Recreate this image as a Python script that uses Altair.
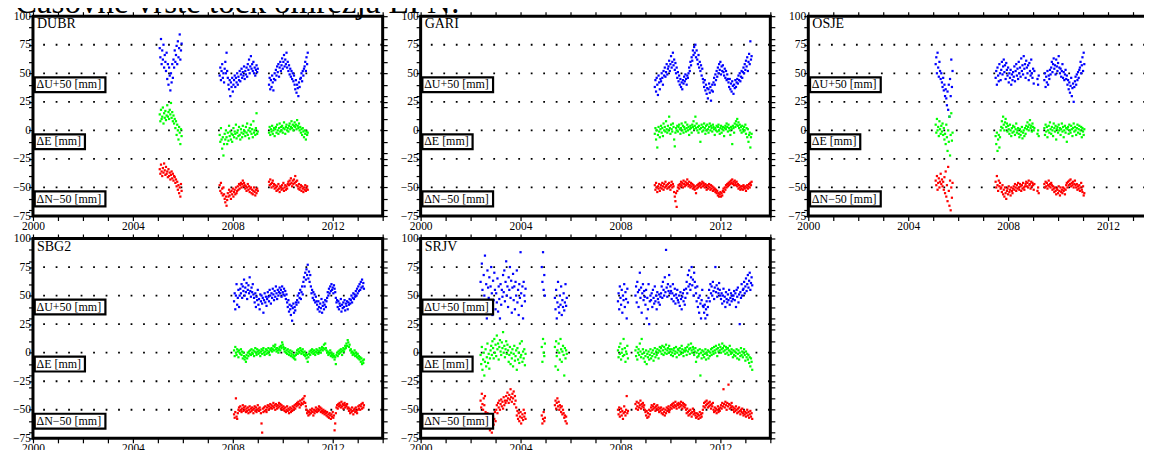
import altair as alt
import pandas as pd

FONT = "Liberation Serif"
TITLE = "Časovne vrste točk omrežja EPN:"
STEP = 0.025  # years between samples
COMPS = ["U", "E", "N"]
COLORS = ["#0000ff", "#00ff00", "#ff0000"]
STATIONS = ["DUBR", "GARI", "OSJE", "SBG2", "SRJV"]

# ---------------- DUBR ----------------
DUBR_START = [2005.075, 2007.475, 2009.45]
DUBR_U = [
    [72, 64, 80, 58, 70, 62, 75, 55, 66, 60, 52, 68, 45, 58, 40, 55, 48, 35, 50, 42,
     58, 46, 62, 55, 70, 60, 66, 74, 58, 78, 64, 72, 84, 62, 70, 76],
    [48, 55, 44, 52, 58, 46, 50, 42, 54, 60, 50, 68, 52, 46, 40, 36, 44, 30, 42, 38,
     46, 34, 40, 44, 48, 38, 46, 42, 50, 40, 47, 44, 52, 43, 49, 54, 46, 51, 48, 56,
     45, 52, 49, 55, 47, 58, 53, 62, 50, 56, 65, 54, 58, 52, 60, 50, 55, 48, 53, 57, 51, 54],
    [40, 46, 36, 44, 38, 48, 42, 35, 45, 50, 44, 53, 48, 56, 51, 58, 47, 55, 60, 52,
     57, 63, 54, 60, 66, 56, 62, 58, 68, 55, 60, 52, 57, 49, 54, 47, 52, 45, 50, 43,
     48, 40, 36, 44, 33, 40, 37, 30, 42, 38, 45, 46, 50, 43, 52, 48, 54, 56, 60, 52, 64, 58, 68],
]
DUBR_E = [
    [14, 8, 18, 10, 12, 20, 6, 15, 11, 17, 9, 13, 22, 12, 16, 10, 18, 14, 24, 11,
     16, 8, 13, 6, 10, 2, 8, -4, 5, 0, -8, 3, -2, -12, 1, -5],
    [-4, -10, 2, -8, -16, -6, -22, -12, -3, -8, 0, -6, -12, -2, -9, 4, -5, -1, -8, -3,
     -10, -4, 2, -6, -1, -3, 5, -7, -2, 0, -5, 3, -4, -8, 1, -2, -6, 4, -3, 0,
     -1, -5, 3, -2, 6, -4, 0, -7, 2, -1, 5, -3, 1, -6, 8, -2, 0, -4, 2, 15, -3, -1],
    [-2, 3, -4, 1, -1, 4, -3, 0, 2, -5, 1, 3, -2, 5, 0, -3, 2, 6, -1, 3,
     0, 4, -2, 2, 7, 1, -3, 3, 5, 0, 2, -1, 4, 6, 1, 3, 8, 2, 5, 0,
     4, 7, 3, 5, 1, 9, 4, 2, 6, 0, 3, -2, 1, -4, 2, -1, -6, 0, -3, -8, -1, -4, -2],
]
DUBR_N = [
    [-34, -38, -30, -36, -40, -33, -37, -29, -35, -39, -32, -38, -36, -41, -34, -40, -37, -43, -39, -36,
     -42, -38, -44, -40, -41, -46, -43, -49, -45, -52, -48, -55, -50, -58, -47, -53],
    [-48, -53, -46, -55, -51, -57, -50, -56, -60, -63, -58, -66, -61, -55, -58, -52, -57, -54, -60, -53,
     -56, -51, -58, -54, -52, -56, -50, -55, -53, -49, -52, -47, -51, -48, -46, -50, -47, -44, -49, -46,
     -48, -51, -49, -53, -50, -47, -52, -49, -54, -51, -50, -55, -52, -56, -53, -50, -54, -57, -52, -55, -51, -53],
    [-45, -48, -43, -47, -50, -46, -44, -49, -47, -51, -48, -50, -53, -49, -52, -47, -51, -54, -49, -50,
     -52, -48, -51, -46, -53, -50, -48, -52, -49, -51, -47, -45, -48, -44, -47, -42, -46, -49, -44, -47,
     -43, -46, -40, -45, -48, -44, -49, -51, -47, -52, -50, -48, -53, -49, -51, -54, -50, -52, -48, -53, -51, -49, -52],
]

# ---------------- GARI ----------------
GARI_START = [2009.375]
GARI_U = [[
    38, 44, 34, 46, 40, 31, 48, 42, 36, 45,
    43, 50, 46, 40, 52, 48, 55, 47, 51, 58, 49, 54,
    56, 61, 52, 58, 65, 55, 60, 68, 57, 62, 53, 59,
    50, 55, 46, 51, 43, 48, 40, 45, 38, 42, 36, 44,
    41, 47, 43, 49, 45, 40, 48, 46,
    50, 55, 52, 60, 57, 64, 61, 70, 66, 73, 68, 75, 64, 70,
    62, 58, 66, 55, 60, 52, 57, 48, 54, 45,
    42, 38, 44, 35, 40, 32, 37, 28, 36, 41, 33, 38, 26, 35, 40, 34,
    42, 46, 40, 49, 44, 52, 47, 55, 50, 58, 53, 60, 49, 56, 52, 57,
    51, 48, 54, 46, 52, 44, 49, 45,
    42, 38, 45, 36, 41, 34, 43, 39, 32, 40, 37, 44, 38, 42,
    45, 41, 48, 44, 50, 43, 47, 52, 46, 51,
    55, 50, 58, 53, 61, 56, 64, 52, 60, 67, 58, 78, 62, 65,
]]
GARI_E = [[
    -3, 2, -8, 0, -15, -4, 3, -1, -6, 1, 4, -2, 2, -5, 6, 0, 3, -1, 8, 1,
    -2, 4, 0, 12, 2, -3, 5, 1, -1, 6, 3, -8, -14, -2, 2, 0, 4, -1, 3, 5,
    1, -3, 2, 6, 0, 4, -2, 3, 1, 7, -1, 2, 5, 0, 3, -4, 1, 4, 2, -2,
    5, 3, 8, 1, 4, 12, 2, 6, 0, 3, -2, 4, 1, -10, 2, 5, -1, 3, 0, 6,
    2, -3, 4, 0, 5, 1, -2, 3, 6, 0, 4, 2, -1, 5, 3, 1, -4, 2, 0, 4,
    -1, 3, 5, 0, -3, 2, 4, -2, 1, 3, 0, -5, 2, 4, 1, 6, 3, -1, 5, 2,
    0, -4, 3, 1, -12, 4, 2, -2, 6, 3, 8, 5, 10, 4, 7, 2, 5, 0, 3, -2,
    4, 1, -1, 3, 0, 5, -3, 2, -6, 1, -10, -4, -2, -15, -6, -3,
]]
GARI_N = [[
    -48, -52, -46, -50, -54, -49, -51, -47, -53, -50, -48, -51, -46, -49, -52, -47, -50, -45, -49, -48,
    -51, -47, -50, -46, -49, -52, -48, -45, -50, -47, -49, -54, -58, -62, -55, -67, -53, -50, -48, -51,
    -47, -49, -45, -48, -46, -50, -44, -47, -49, -45, -48, -46, -43, -47, -49, -45, -48, -50, -46, -49,
    -47, -51, -48, -50, -52, -49, -55, -51, -48, -50, -47, -49, -46, -48, -50, -47, -45, -49, -46, -48,
    -50, -47, -49, -52, -48, -51, -49, -47, -50, -52, -48, -51, -49, -53, -50, -52, -51, -54, -52, -55,
    -53, -57, -55, -58, -56, -54, -58, -55, -57, -53, -51, -54, -50, -52, -48, -50, -47, -49, -46, -48,
    -45, -47, -44, -46, -43, -47, -45, -48, -44, -46, -48, -45, -49, -47, -51, -48, -50, -52, -49, -51,
    -49, -52, -48, -50, -51, -49, -53, -50, -48, -51, -49, -47, -50, -46, -48, -45,
]]

# ---------------- OSJE ----------------
OSJE_START = [2005.1, 2007.5, 2009.175, 2009.45]
OSJE_U = [
    [58, 64, 50, 68, 55, 47, 60, 52, 45, 50, 42, 38, 46, 35, 40, 30, 36, 28, 22, 34,
     18, 40, 12, 45, 30, 62, 38, 52],
    [46, 52, 40, 55, 48, 43, 58, 50, 44, 53, 60, 49, 56, 62, 51, 57, 45, 59, 53, 48,
     55, 42, 50, 46, 53, 40, 49, 44, 51, 47, 56, 43, 52, 58, 48, 54, 45, 60, 50, 55,
     47, 63, 52, 57, 49, 65, 54, 58, 46, 61, 55, 50, 57, 44, 59, 52, 48, 62, 50, 46, 54, 41, 52],
    [45, 40, 48],
    [44, 50, 38, 47, 42, 52, 40, 48, 45, 53, 49, 55, 60, 51, 58, 63, 54, 57, 49, 62,
     56, 52, 59, 65, 55, 50, 54, 47, 52, 58, 46, 51, 44, 49, 53, 45, 48, 40, 44, 36,
     42, 33, 39, 46, 30, 37, 41, 25, 38, 43, 47, 40, 49, 44, 51, 46, 53, 55, 60, 50,
     57, 64, 52, 68, 58],
]
OSJE_E = [
    [5, -2, 10, 0, 3, -5, 8, 1, -3, 4, -1, 6, -4, 2, -8, -3, -12, 5, -6, -18,
     0, -10, 12, -22, -4, 15, -9, -2],
    [-5, -12, -2, -18, -8, -4, -15, -6, 0, 3, 8, 2, 12, 5, 0, 7, 10, 3, 6, -1,
     4, 1, -3, 5, 0, -5, 2, -2, 4, -1, 3, -4, 1, 6, -2, 0, 2, -3, -6, 1,
     -4, -1, 3, -7, -2, 0, -5, 2, -3, 4, 1, 7, 3, 0, 5, 9, 2, 4, -1, 6, 3, 0, 2],
    [-3, 0, -5],
    [2, -4, 5, -1, 3, -6, 0, 4, -2, 7, 1, -3, 3, 0, -5, 6, 2, -1, 4, -8,
     1, 3, -2, 5, 0, 2, -4, 1, 6, -1, 3, -6, 0, 4, -2, 2, -10, 1, 3, -3,
     5, 0, -2, 4, 1, -5, 2, 6, -1, 3, 0, -4, 2, 5, -2, 1, 4, -3, 0, 3,
     -6, 2, -1, -4, 1],
]
OSJE_N = [
    [-44, -48, -40, -52, -46, -42, -50, -45, -38, -47, -43, -49, -45, -52, -41, -55, -36, -58, -48, -62,
     -32, -53, -66, -44, -70, -50, -59, -46],
    [-45, -50, -40, -48, -53, -44, -49, -46, -51, -50, -54, -48, -56, -52, -58, -50, -55, -60, -53, -51,
     -56, -49, -54, -52, -57, -50, -53, -55, -51, -49, -52, -47, -50, -53, -48, -51, -46, -50, -52, -47,
     -49, -53, -48, -51, -46, -50, -52, -49, -47, -45, -49, -46, -50, -44, -48, -47, -51, -45, -49, -46,
     -48, -52, -47],
    [-53, -50, -55],
    [-47, -50, -45, -49, -46, -51, -48, -44, -49, -47, -50, -46, -48, -52, -49, -51, -54, -50, -53, -56,
     -51, -52, -55, -49, -53, -57, -50, -54, -52, -55, -50, -53, -51, -56, -52, -48, -46, -50, -45, -48,
     -44, -47, -43, -49, -46, -48, -45, -50, -47, -44, -48, -50, -47, -52, -49, -51, -48, -53, -50, -46,
     -52, -54, -49, -57, -55],
]

# ---------------- SBG2 ----------------
SBG2_START = [2008.05]
SBG2_U = [[
    45, 52, 38, 50, 60, 42, 48, 55, 40, 50,
    56, 52, 60, 48, 58, 54, 64, 50, 57, 53, 61, 47, 55, 59, 52, 66, 54, 49, 57, 53, 60, 51,
    48, 44, 52, 40, 49, 46, 55, 42, 47, 38, 51, 45, 50, 43, 48, 35, 46, 52, 44, 49, 41,
    47, 53, 49, 45, 55, 50, 43, 52, 48, 56, 51, 46, 54, 49, 58, 52, 47, 55, 50, 53,
    57, 52, 55, 49, 58, 53, 51, 56, 50, 54, 47, 51,
    44, 40, 46, 36, 42, 38, 33, 41, 28, 39, 43, 35, 40, 37, 44, 42,
    46, 50, 44, 52, 48, 55, 47, 53, 58, 51,
    62, 66, 58, 70, 64, 73, 68, 77, 65, 71, 62, 68,
    58, 52, 55, 48, 53, 46, 51, 44, 49, 45,
    42, 38, 45, 40, 36, 43, 39, 47, 35, 41, 44, 38, 42, 46, 40, 45,
    48, 53, 50, 56, 52, 58, 54, 60, 55, 57, 52, 59, 56, 53,
    48, 44, 46, 40, 45, 38, 43, 41, 47, 36, 42, 39, 44, 40, 46, 37, 43, 41, 45, 38, 44, 42, 47, 43,
    46, 50, 44, 48, 52, 47, 51, 49, 54, 50, 56, 52, 58, 54, 60, 55, 62, 57, 64, 58, 61, 56,
]]
SBG2_E = [[
    2, -3, 5, 0, -2, 3, 1, -4, 2, 0, -1, 3, -2, 1, -5, 0, -3, -6, -4, -8,
    -2, -5, 0, -3, 1, -1, 2, -2, 3, 0, -1, 2, -3, 1, 4, 0, -2, 3, 1, -1,
    2, 0, -3, 1, 3, -1, 2, 4, 0, -2, 1, 3, -1, 2, 0, 4, 1, -2, 3, 2,
    4, 1, 3, 6, 2, 5, 7, 3, 1, 4, 2, 0, 3, 5, 2, 6, 4, 9, 7, 5,
    3, 1, 4, 0, 2, -1, 3, 1, -2, 0, 2, -3, -1, 1, -4, -2, -5, -3, -6, -2,
    0, 2, -1, 3, 1, 0, 4, 2, -1, 1, 3, 0, -2, 1, -3, -1, -5, -2, -8, -4,
    -1, 1, -2, 2, 0, 3, 1, -1, 2, 0, -2, 1, 3, 0, 2, -1, 1, 4, 2, 0,
    3, 5, 2, 4, 7, 3, 8, 4, 2, 0, 1, -2, 0, -1, 2, -3, 0, -2, -4, -1,
    -3, -6, -4, -10, -2, 0, -3, 1, -1, 2, 0, 3, 1, -2, 2, 4, 1, 3, 6, 4,
    8, 6, 11, 9, 5, 7, 2, 3, 0, 1, -2, 0, -1, 2, -3, 0, -2, -4, -1, -5,
    -3, -6, -4, -8, -5, -10, -7, -9, -6,
]]
SBG2_N = [[
    -54, -57, -52, -40, -56, -58, -53, -50, -48, -51, -47, -50, -52, -49, -46, -51, -48, -50, -47, -52,
    -49, -51, -48, -53, -50, -47, -52, -49, -51, -48, -50, -53, -49, -47, -51, -48, -52, -50, -46, -49,
    -51, -48, -50, -53, -62, -70, -49, -52, -48, -51, -47, -50, -52, -48, -46, -50, -47, -49, -45, -48,
    -46, -49, -47, -44, -48, -46, -50, -45, -47, -49, -46, -48, -44, -47, -45, -49, -46, -48, -50, -47,
    -49, -51, -48, -52, -50, -47, -51, -49, -53, -50, -48, -52, -49, -51, -47, -50, -48, -46, -49, -45,
    -47, -44, -46, -43, -45, -48, -42, -46, -44, -41, -45, -40, -43, -38, -44, -47, -50, -53, -51, -55,
    -52, -54, -50, -53, -51, -49, -52, -55, -50, -53, -51, -48, -50, -52, -49, -51, -47, -50, -48, -52,
    -49, -51, -53, -50, -52, -54, -51, -53, -55, -52, -56, -54, -57, -53, -55, -58, -54, -56, -52, -57,
    -55, -68, -62, -53, -48, -46, -49, -45, -47, -44, -46, -48, -43, -47, -45, -49, -46, -44, -48, -46,
    -47, -45, -49, -48, -51, -49, -53, -50, -52, -48, -51, -54, -50, -49, -52, -48, -51, -53, -50, -47,
    -49, -46, -50, -47, -45, -49, -44, -48, -46,
]]

# ---------------- SRJV ----------------
SRJV_START = [2002.4, 2004.85, 2005.375, 2007.9, 2008.6]
SRJV_U = [
    [62, 45, 78, 55, 35, 68, 50, 85, 42, 60, 30, 72, 57, 48, 66, 40, 58, 75, 52, 33,
     63, 46, 70, 55, 38, 52, 44, 65, 36, 58, 47, 30, 60, 42, 55, 49, 68, 53, 72, 45,
     62, 80, 50, 58, 40, 66, 55, 75, 48, 63, 35, 57, 69, 46, 58, 38, 62, 50, 72, 44,
     55, 33, 60, 48, 88, 52, 41, 58, 30, 62, 50, 45, 56],
    [75, 62, 88, 55, 68, 50],
    [48, 38, 55, 30, 44, 62, 40, 35, 50, 42, 58, 33, 46, 40, 52, 37, 44, 60, 41, 48],
    [45, 52, 38, 58, 48, 42, 55, 35, 50, 46, 60, 40, 53, 47, 30, 56, 44],
    [50, 58, 44, 62, 53, 40, 55, 70, 48, 57, 35, 52, 60, 46, 54, 49,
     42, 55, 30, 48, 38, 60, 25, 45, 50,
     46, 52, 40, 55, 48, 43, 58, 45, 50, 38, 53, 47, 44, 51, 42, 49,
     52, 58, 48, 62, 55, 50, 66, 53, 90, 57, 49, 60, 54, 68, 52, 58,
     54, 47, 52, 60, 45, 50, 56, 43, 51, 48, 55, 46,
     44, 50, 41, 53, 47, 38, 49, 52, 45, 55, 42, 48,
     56, 62, 52, 68, 58, 72, 60, 55, 66, 75, 59, 64, 50, 70, 62, 57,
     52, 45, 58, 40, 48, 35, 50, 43, 30, 46, 55, 41,
     40, 35, 42, 30, 38, 45, 33, 40,
     48, 55, 45, 60, 52, 58, 50, 62, 54, 47, 57, 75, 53, 59, 49, 56, 52, 61, 55, 50,
     47, 52, 43, 50, 56, 45, 49, 40, 53, 47, 44, 51, 46, 55, 42, 48, 52, 45, 50, 47,
     50, 54, 46, 52, 40, 55, 49, 57, 44, 51, 25, 53, 48, 60, 50, 55,
     56, 62, 52, 58, 65, 54, 60, 68, 57, 63, 70, 55, 61, 66, 59],
]
SRJV_E = [
    [-2, -10, 5, -15, -6, 0, -20, -8, 3, -12, -4, 8, -9, -1, -14, -5, 2, 6, -2, 10,
     4, -5, 12, 0, 7, -3, 15, 3, 8, -6, 5, 11, 1, -2, 9, 4, 18, 0, 6, -4,
     3, 10, -1, 7, 2, -8, -2, 5, -10, 0, -5, 3, -12, -1, 6, -7, -3, 2, -15, 4,
     -6, 0, -9, 8, -4, -2, 10, -8, 1, -5, 3, -11, -1],
    [5, -8, 12, 0, -3, 8],
    [5, -12, 10, -3, 2, -15, 8, 0, -6, 12, 3, -8, 1, 6, -2, -20, 4, -5, 2, -1],
    [2, -4, 5, -1, 8, -6, 0, 3, -3, 12, -2, 4, -8, 1, -1, 6, -5],
    [2, -3, 5, -6, 0, 3, -2, 8, 1, -4, 12, -1, 3, -5, 0, -8, -3, 2, -10, -1,
     -4, 1, -6, -2, 3, -5, 0, -3, 2, -7, -1, 4, -4, 1, -2, 3, 0, -5, 2, 5,
     1, 4, -1, 6, 2, -2, 5, 0, 3, 7, -1, 2, 4, 0, 6, 3, 1, -2, 3, 0,
     -3, 2, 4, -1, 1, 5, -4, 0, 3, 2, -2, 4, 1, -1, 6, 3, 0, -3, 2, 1,
     4, 2, -2, 5, 1, 7, 3, -1, 4, 8, 2, 0, 5, 3, -2, 1, 4, -8, 0, -4,
     2, -3, -1, 3, -20, 0, -5, 2, -2, 1, -4, -1, 3, -6, 0, -2, 2, -5, 1, -3,
     0, 3, -2, 4, 1, -1, 5, 2, 0, 6, 3, -3, 4, 1, 7, 2, 5, 0, 3, 8,
     4, 1, 6, 2, -1, 5, 3, 0, 4, -2, 2, 6, 1, -1, 3, 0, -4, 2, -2, 1,
     -3, 0, 3, -5, -1, 2, -6, 0, -3, 4, -2, 1, -4, 0, 3, -2, -7, 1, -4, -1,
     -6, -2, -9, -4, -12, -5, -8, -15],
]
SRJV_N = [
    [-42, -48, -36, -45, -50, -40, -46, -38, -52, -55, -60, -53, -64, -57, -62, -68, -55, -59, -70, -61,
     -56, -63, -58, -52, -60, -50, -46, -53, -44, -48, -42, -50, -45, -41, -47, -43, -49, -39, -46, -42,
     -44, -38, -42, -35, -40, -44, -37, -41, -32, -39, -43, -36, -40, -34, -45, -38, -42, -48, -55, -51,
     -58, -53, -60, -56, -52, -62, -57, -54, -59, -50, -56, -53, -58],
    [-55, -62, -58, -52, -60, -57],
    [-46, -42, -49, -44, -40, -47, -43, -50, -46, -48, -52, -47, -54, -50, -53, -57, -55, -60, -56, -62],
    [-50, -54, -48, -56, -52, -49, -55, -51, -58, -53, -47, -52, -55, -50, -38, -53, -51],
    [-45, -49, -43, -47, -50, -44, -48, -46, -42, -49, -45, -47, -44, -48, -46, -50, -52, -55, -51, -57,
     -53, -56, -50, -54, -51, -48, -46, -50, -47, -49, -45, -48, -51, -47, -49, -46, -50, -48, -52, -49,
     -51, -48, -53, -50, -54, -49, -52, -55, -50, -53, -48, -51, -49, -47, -52, -50, -48, -46, -49, -45,
     -47, -44, -48, -46, -43, -47, -49, -45, -46, -44, -48, -45, -47, -43, -46, -49, -44, -47, -45, -48,
     -46, -50, -53, -49, -52, -55, -51, -54, -50, -53, -56, -52, -49, -54, -51, -53, -55, -57, -53, -56,
     -54, -58, -55, -52, -57, -54, -56, -53, -50, -47, -44, -48, -43, -46, -42, -45, -48, -44, -47, -43,
     -46, -49, -45, -47, -44, -50, -52, -48, -51, -49, -53, -50, -47, -52, -49, -51, -48, -46, -49, -44,
     -47, -32, -45, -48, -43, -46, -50, -44, -47, -28, -45, -49, -46, -48, -44, -47, -50, -48, -52, -49,
     -51, -47, -50, -53, -49, -52, -48, -51, -54, -50, -52, -49, -53, -55, -51, -54, -52, -56, -53, -50,
     -55, -52, -57, -54, -51, -56, -53, -58],
]

SERIES = {
    "DUBR": (DUBR_START, DUBR_U, DUBR_E, DUBR_N),
    "GARI": (GARI_START, GARI_U, GARI_E, GARI_N),
    "OSJE": (OSJE_START, OSJE_U, OSJE_E, OSJE_N),
    "SBG2": (SBG2_START, SBG2_U, SBG2_E, SBG2_N),
    "SRJV": (SRJV_START, SRJV_U, SRJV_E, SRJV_N),
}

# component label boxes
LABELS = ["ΔU+50 [mm]", "ΔE [mm]", "ΔN−50 [mm]"]
BOX_X1 = [2000.07, 2000.07, 2000.07]
BOX_X2 = [2002.9, 2002.08, 2002.9]
BOX_Y1 = [33.5, -16.5, -66.5]
BOX_Y2 = [46.5, -3.5, -53.5]
TEXT_X = [2000.14, 2000.14, 2000.14]
TEXT_Y = [36.8, -13.2, -63.2]
GRID_Y = [75, 50, 25, 0, -25, -50]
XTICKS = list(range(2000, 2015))
YTICKS = sorted(set(range(-70, 101, 10)) | set(range(-75, 101, 25)))

rows = []
for st, (starts, us, es, ns) in SERIES.items():
    for k, s0 in enumerate(starts):
        for comp, vals in zip(COMPS, (us[k], es[k], ns[k])):
            for i, v in enumerate(vals):
                rows.append({"station": st, "t": round(s0 + i * STEP, 4), "comp": comp, "v": v})
df = pd.DataFrame(rows)

ldf = pd.DataFrame({"label": LABELS, "bx1": BOX_X1, "bx2": BOX_X2, "by1": BOX_Y1,
                    "by2": BOX_Y2, "tx": TEXT_X, "ty": TEXT_Y})
gdf = pd.DataFrame({"g": GRID_Y, "x1": [2000] * len(GRID_Y), "x2": [2014] * len(GRID_Y)})

XS = alt.Scale(domain=[2000, 2014], nice=False, zero=False)
YS = alt.Scale(domain=[-75, 100], nice=False, zero=False)


def ax(**kw):
    base = dict(domain=False, grid=False, title=None, tickColor="black", tickWidth=1.2,
                tickSize=4.5, labelFont=FONT, labelFontSize=11.5, labelColor="black",
                labelOverlap=False, labelFlush=False)
    base.update(kw)
    return alt.Axis(**base)


AX_BOTTOM = ax(orient="bottom", values=XTICKS, format="d", labelPadding=0,
               labelExpr="datum.value % 4 == 0 ? datum.label : ''")
AX_LEFT = ax(orient="left", values=YTICKS, format="d", labelPadding=-2,
             labelExpr="datum.value % 25 == 0 ? datum.label : ''")
AX_TOP = ax(orient="top", values=XTICKS, labels=False)
AX_RIGHT = ax(orient="right", values=YTICKS, labels=False)


def panel(st, with_title=False):
    d = df[df.station == st]
    grid = alt.Chart(gdf).mark_rule(color="black", strokeWidth=1.8, strokeDash=[1.8, 10.7],
                                    strokeDashOffset=2.3).encode(
        x=alt.X("x1:Q", scale=XS, axis=AX_TOP), x2="x2:Q",
        y=alt.Y("g:Q", scale=YS, axis=AX_RIGHT))
    pts = alt.Chart(d).mark_square(size=5, opacity=1).encode(
        x=alt.X("t:Q", scale=XS, axis=AX_BOTTOM),
        y=alt.Y("v:Q", scale=YS, axis=AX_LEFT),
        color=alt.Color("comp:N", scale=alt.Scale(domain=COMPS, range=COLORS), legend=None))
    boxes = alt.Chart(ldf).mark_rect(fill="white", stroke="black", strokeWidth=2.2).encode(
        x=alt.X("bx1:Q", scale=XS, axis=None), x2="bx2:Q",
        y=alt.Y("by1:Q", scale=YS, axis=None), y2="by2:Q")
    labels = alt.Chart(ldf).mark_text(align="left", baseline="alphabetic", font=FONT,
                                      fontSize=12, color="black").encode(
        x=alt.X("tx:Q", scale=XS, axis=None), y=alt.Y("ty:Q", scale=YS, axis=None),
        text="label:N")
    name = alt.Chart(pd.DataFrame({"name": [st], "x": [2000.16], "y": [89.3]})).mark_text(
        align="left", baseline="alphabetic", font=FONT, fontSize=14, color="black").encode(
        x=alt.X("x:Q", scale=XS, axis=None), y=alt.Y("y:Q", scale=YS, axis=None), text="name:N")
    layers = [grid, pts, boxes, labels, name]
    if with_title:
        ttl = alt.Chart(pd.DataFrame({"t": [TITLE]})).mark_text(
            align="left", baseline="alphabetic", font=FONT, fontSize=33, color="black").encode(
            x=alt.value(-18), y=alt.value(-2.7), text="t:N")
        layers.append(ttl)
    return alt.layer(*layers).resolve_axis(
        x="independent", y="independent").properties(width=350, height=200)


panels = [panel(s, with_title=(i == 0)) for i, s in enumerate(STATIONS)]

chart = alt.concat(*panels, columns=3, spacing={"row": 22.5, "column": 38},
                   bounds="flush").properties(
    padding={"left": 3, "top": -23, "right": -21, "bottom": 0}
).configure(font=FONT).configure_view(stroke="black", strokeWidth=3)

chart.save("out.html", embed_options={"renderer": "svg", "actions": False})
